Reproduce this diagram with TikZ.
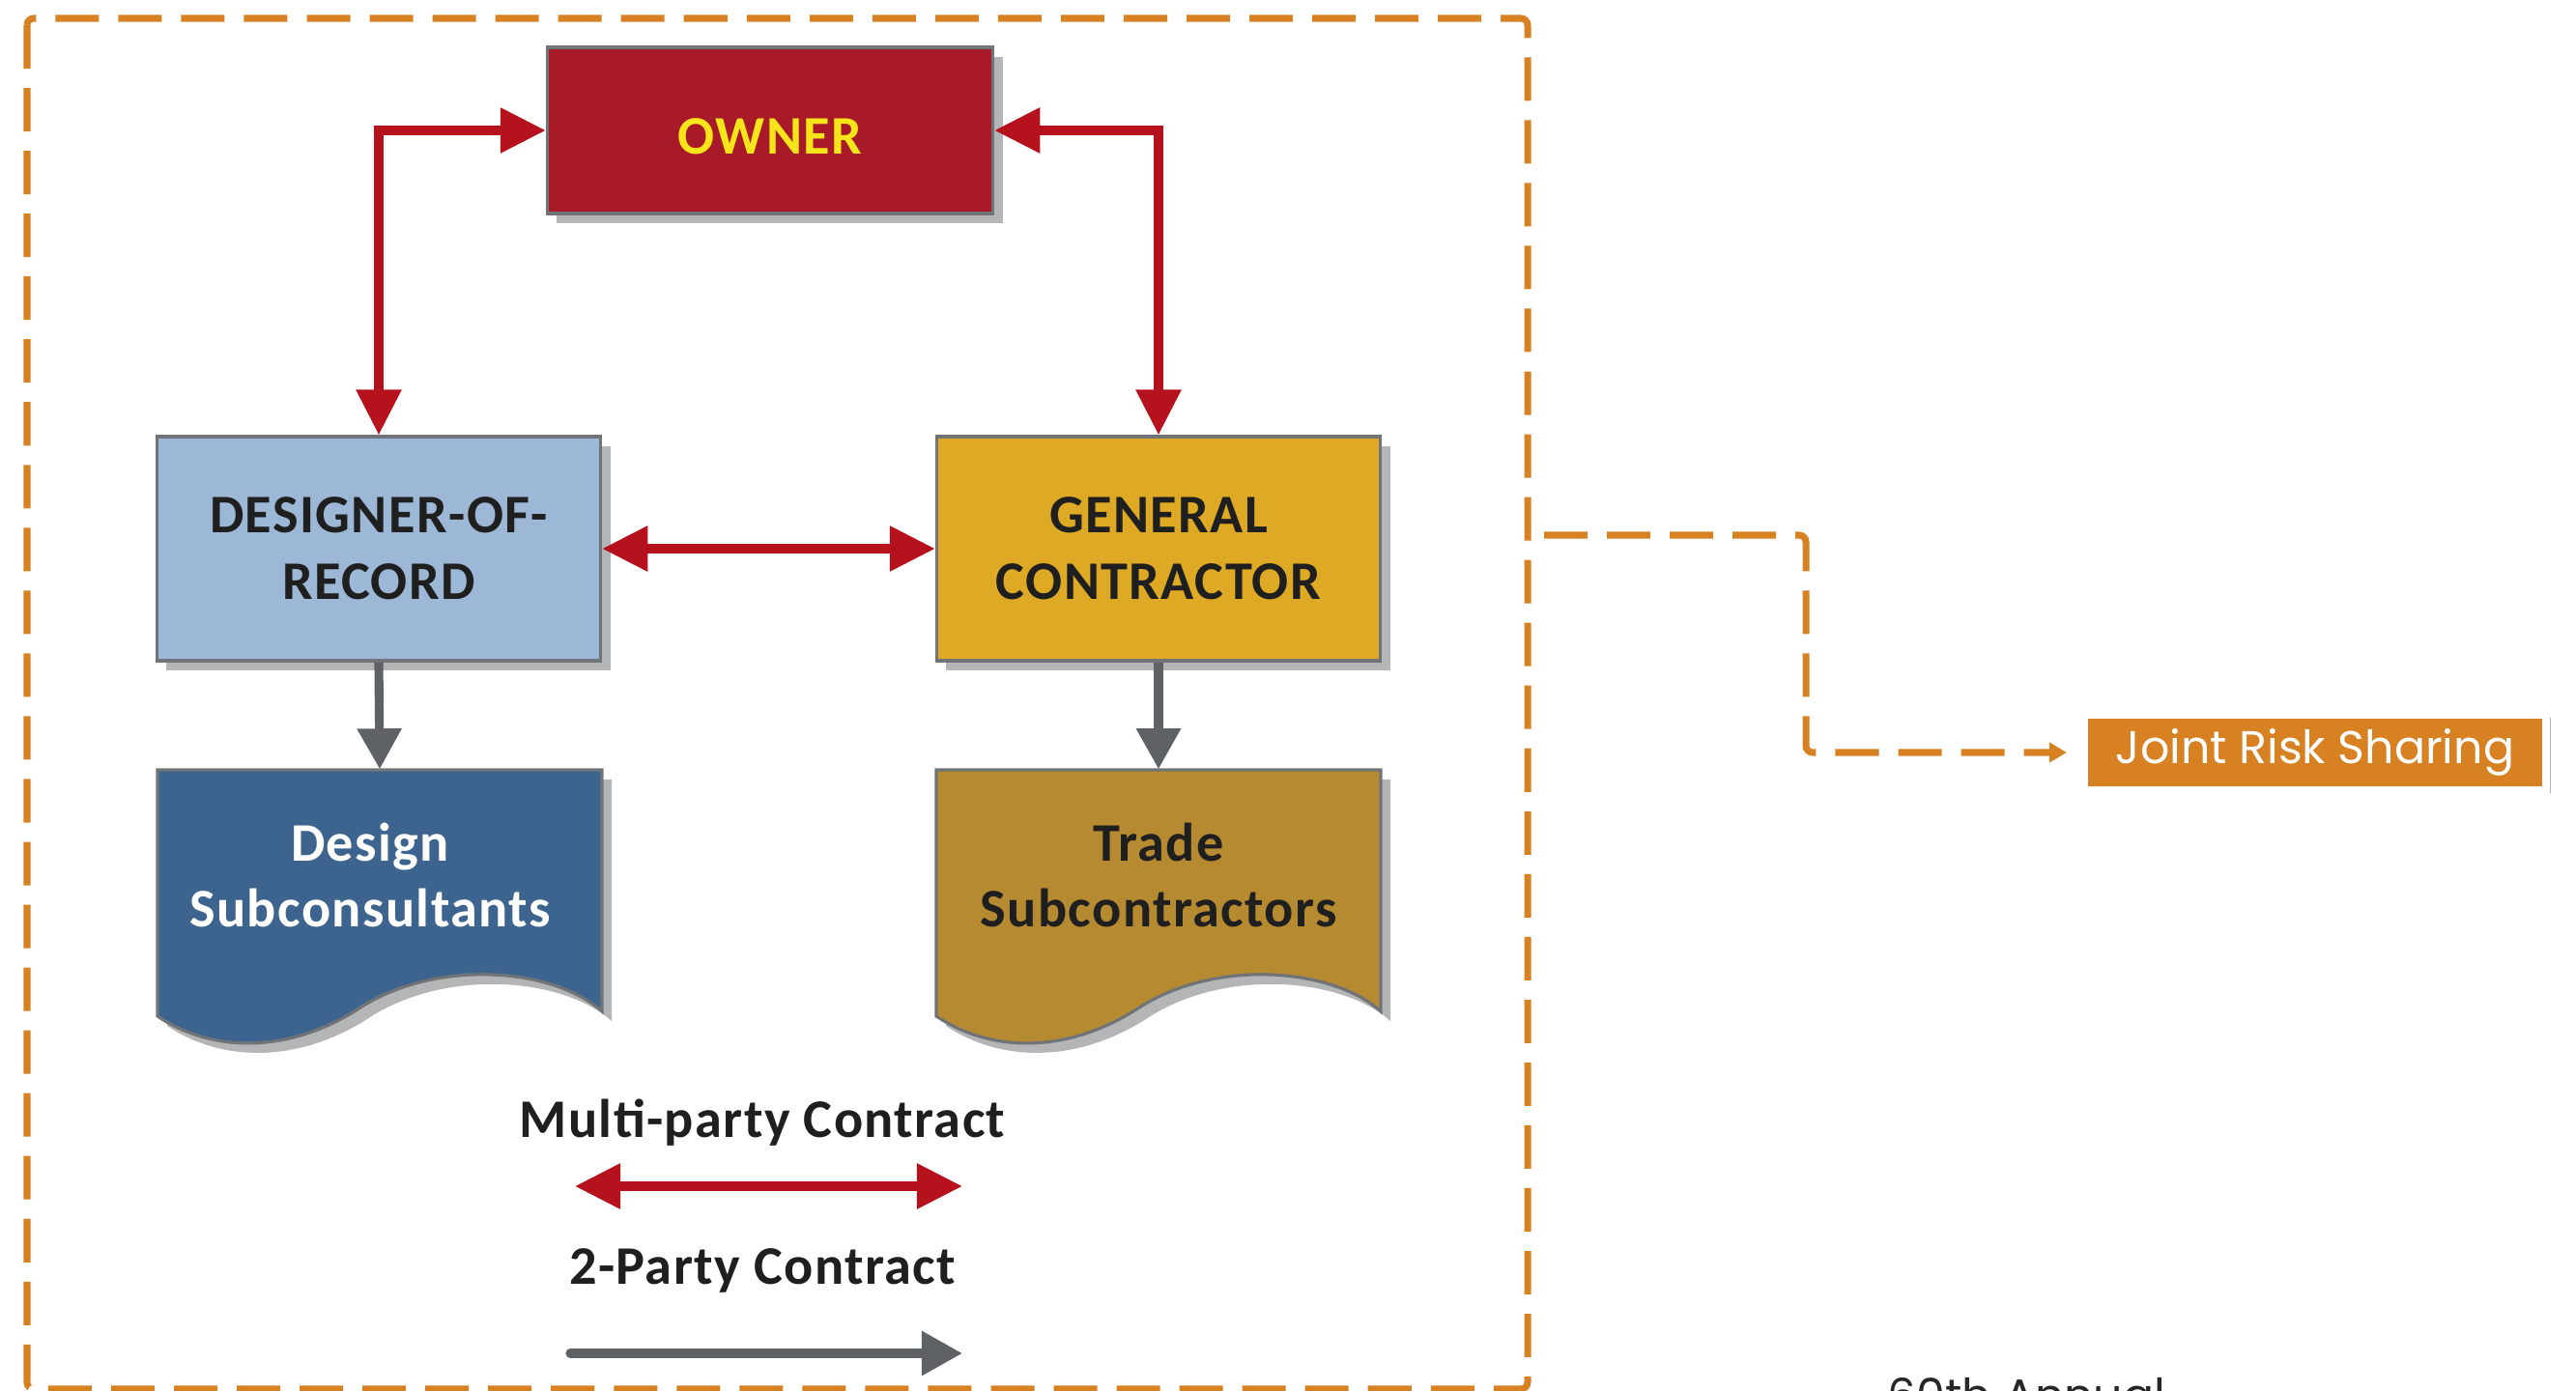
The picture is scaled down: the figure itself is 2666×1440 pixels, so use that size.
\documentclass[tikz,border=0pt]{standalone}
\usepackage{fontspec}
\setmainfont{Carlito}[LetterSpace=2.5]
\newfontfamily\popfont{Poppins}
\usepackage{tikz}
\usetikzlibrary{arrows.meta,shadows,positioning,calc}
\definecolor{ownerred}{HTML}{A91A29}
\definecolor{owneryellow}{HTML}{F7E51B}
\definecolor{dorblue}{HTML}{9DB8D7}
\definecolor{gcgold}{HTML}{DEA924}
\definecolor{dsblue}{HTML}{3C648E}
\definecolor{tsbrown}{HTML}{B68A31}
\definecolor{boxgray}{HTML}{707477}
\definecolor{shadowgray}{HTML}{B3B5B7}
\definecolor{contractred}{HTML}{B5121E}
\definecolor{contractgray}{HTML}{5E6265}
\definecolor{riskorange}{HTML}{D78122}
\tikzset{% boxes and contract lines
	party/.style={draw=boxgray, line width=0.9pt, minimum width=4.59cm, minimum height=2.32cm,
		align=center, text=black!88, font=\fontsize{16}{19.5}\selectfont\bfseries,
		drop shadow={shadow xshift=0.1cm, shadow yshift=-0.1cm, fill=shadowgray, opacity=1}},
	docnode/.style={minimum width=4.6cm, minimum height=2.18cm, align=center,
		font=\fontsize{16}{19.5}\selectfont\bfseries},
	multi/.style={draw=contractred, line width=2.6pt,
		{Triangle[length=0.47cm,width=0.45cm]}-{Triangle[length=0.47cm,width=0.45cm]}},
	twoparty/.style={draw=contractgray, line width=2.6pt, -{Triangle[length=0.42cm,width=0.44cm]}},
	riskline/.style={draw=riskorange, line width=2pt, dash pattern=on 0.45cm off 0.2cm},
	legendtxt/.style={font=\fontsize{16}{18}\selectfont\bfseries, text=black!88}
}
% wavy bottom of a subcontract box, top left corner at (0,0)
\newcommand{\docpath}{(0,0) -- (460,0) -- (460,250) .. controls (410,205) and (290,195) .. (210,246)
	.. controls (140,292) and (60,295) .. (0,255) -- cycle}

\begin{document}
\begin{tikzpicture}[x=0.01cm, y=-0.01cm]
\useasboundingbox (0,0) rectangle (2666,1440);

% frame round the contract model
\draw[riskline, rounded corners=2pt] (28,19) rectangle (1581,1438);

\node (owner) [party, minimum width=4.61cm, minimum height=1.72cm, fill=ownerred, text=owneryellow] at (797,135) {\raisebox{-0.24cm}[0pt][0pt]{OWNER}};
\node (dor) [party, fill=dorblue] at (392,568) {DESIGNER-OF-\\RECORD};
\node (gc) [party, fill=gcgold] at (1199,568) {GENERAL\\CONTRACTOR};

% subconsultants / subcontractors
\foreach \xx/\col in {163/dsblue, 969/tsbrown}{
	\begin{scope}[shift={(\xx,797)}]
		\fill[shadowgray] [shift={(10,10)}] \docpath;
		\draw[boxgray, line width=0.9pt, fill=\col] \docpath;
	\end{scope}
}
\node (dsub) [docnode, text=white] at (393,906) {\hspace*{-0.2cm}Design\\\hspace*{-0.2cm}Subconsultants};
\node (tsub) [docnode, text=black!88] at (1199,906) {Trade\\Subcontractors};

\draw[multi] (owner.west) -| (dor.north);
\draw[multi] (owner.east) -| (gc.north);
\draw[multi] (dor.east) -- (gc.west);
\draw[twoparty] (dor.south) -- (dsub.north);
\draw[twoparty] (gc.south) -- (tsub.north);

% legend
\node (multilbl) [legendtxt, anchor=base] at (789,1177) {Multi-party Contract};
\node (twolbl) [legendtxt, anchor=base] at (789,1329) {2-Party Contract};
\coordinate (mL) at (595,1228);
\coordinate (mR) at (996,1228);
\coordinate (tL) at (590,1401);
\coordinate (tR) at (996,1401);
\draw[multi] (mL) -- (mR);
\draw[twoparty, line cap=round] (tL) -- (tR);

% joint risk sharing
\node (jrs) [fill=riskorange, draw=white, line width=0.08cm, minimum width=4.78cm, minimum height=0.77cm,
	text=white, font=\popfont\fontsize{13.5}{16}\selectfont,
	drop shadow={shadow xshift=0.01cm, shadow yshift=-0.03cm, shadow scale=1.015, fill=black, opacity=0.3}] at (2396,779) {Joint Risk Sharing};
\coordinate (riskstart) at (1598,554);
\coordinate (riskbend) at (1869,779);
\draw[riskline, rounded corners=2pt, -{Triangle[length=0.18cm,width=0.2cm]}, shorten >=0.14cm]
	(riskstart) -| (riskbend) -- (jrs.west);

\node (annual) [anchor=base west, font=\popfont\fontsize{13.5}{16}\selectfont, text=black!85, inner sep=0pt] at (1953,1461) {60th Annual};
\end{tikzpicture}
\end{document}
